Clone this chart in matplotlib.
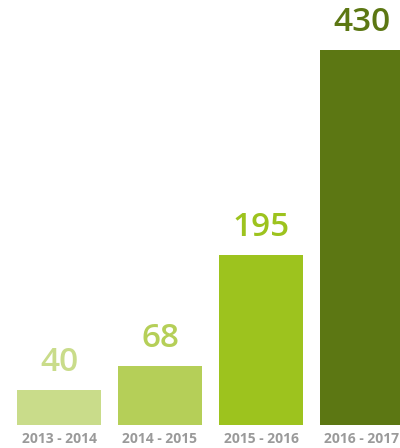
import matplotlib.pyplot as plt

# 数据
periods = ['2013 - 2014', '2014 - 2015', '2015 - 2016', '2016 - 2017']
values = [40, 68, 195, 430]
colors = ['#c9dc8a', '#b5cf58', '#9dc31e', '#5c7713']

plt.rcParams['font.family'] = ['Open Sans', 'DejaVu Sans']

fig = plt.figure(figsize=(4.0, 4.48), dpi=100)
ax = fig.add_axes([0, 23 / 448, 1, 425 / 448])

x = range(len(values))
bars = ax.bar(x, values, width=0.83, color=colors)

# 数值标签
for bar, v, c in zip(bars, values, colors):
    ax.annotate(str(v), (bar.get_x() + bar.get_width() / 2, v),
                xytext=(0, 8), textcoords='offset points',
                ha='center', va='bottom', fontsize=24, fontweight='semibold', color=c)

ax.set_xlim(-59 / 101, 341 / 101)
ax.set_ylim(0, 425 / (375 / 430))
ax.set_xticks(list(x))
ax.set_xticklabels(periods, fontsize=10, fontweight='bold', color='#9a9a9a')
ax.tick_params(axis='x', length=0, pad=5)
ax.set_yticks([])
for s in ax.spines.values():
    s.set_visible(False)

fig.savefig('out.png', dpi=100)
